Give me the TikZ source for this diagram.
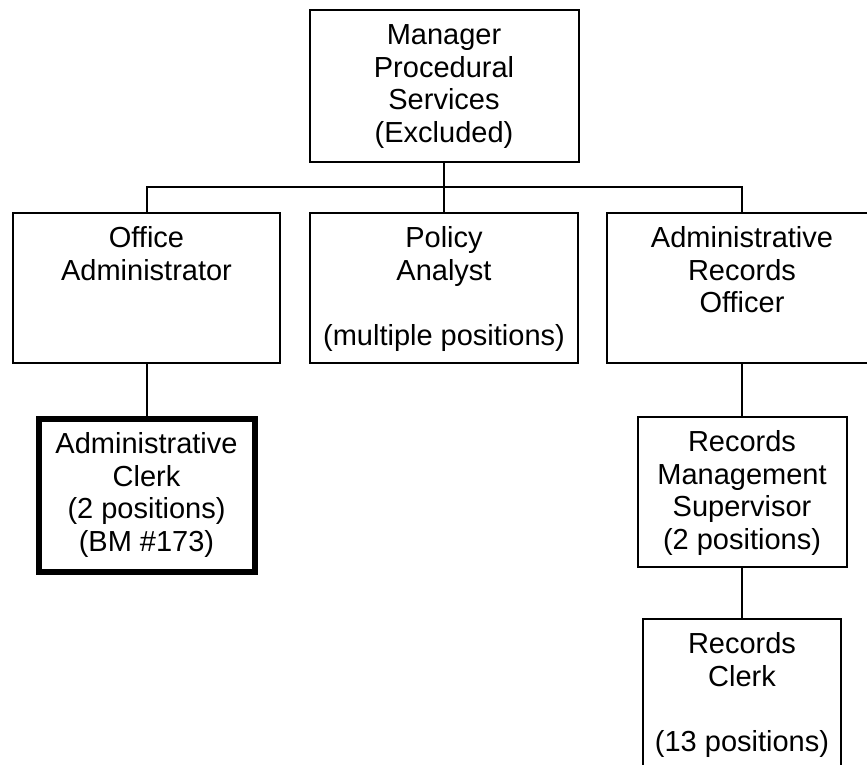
\documentclass[tikz,border=0pt]{standalone}
\usepackage{fontspec}
\setmainfont{Liberation Sans}
\usetikzlibrary{positioning}
\tikzset{
  post/.style 2 args={draw, line width=2pt, inner xsep=0pt, inner ysep=12pt,
    font=\fontsize{29}{32.5}\selectfont,
    execute at begin node={\begin{minipage}[c][#2][t]{#1}\centering\strut},
    execute at end node={\end{minipage}}},
  keypost/.style 2 args={post={#1}{#2}, line width=6pt},
  link/.style={line width=2pt}
}

\begin{document}
\begin{tikzpicture}[x=1pt,y=-1pt]
  \useasboundingbox (0,0) rectangle (867,765);
  \clip (0,0) rectangle (867,765);
  \node[post={269pt}{128pt}] (mgr) at (444,86) {Manager\\Procedural\\Services\\(Excluded)};
  \node[post={267pt}{126pt}] (offadm) at (146.5,288) {Office\\Administrator};
  \node[post={268pt}{126pt}] (policy) at (444,288) {Policy\\Analyst\\~\\(multiple positions)};
  \node[post={270pt}{126pt}] (aro) at (742,288) {Administrative\\Records\\Officer};
  \node[keypost={216pt}{129pt}] (clerk) at (146.5,495.5) {Administrative\\Clerk\\(2 positions)\\(BM \#173)};
  \node[post={209pt}{126pt}] (rms) at (742,492) {Records\\Management\\Supervisor\\(2 positions)};
  \node[post={198pt}{126pt}] (rc) at (742,694) {Records\\Clerk\\~\\(13 positions)};
  \coordinate (bus) at (444,187);
  \draw[link] (mgr) -- (policy);
  \draw[link] (offadm.north) |- (bus) -| (aro.north);
  \draw[link] (offadm) -- (clerk);
  \draw[link] (aro) -- (rms);
  \draw[link] (rms) -- (rc);
\end{tikzpicture}
\end{document}
